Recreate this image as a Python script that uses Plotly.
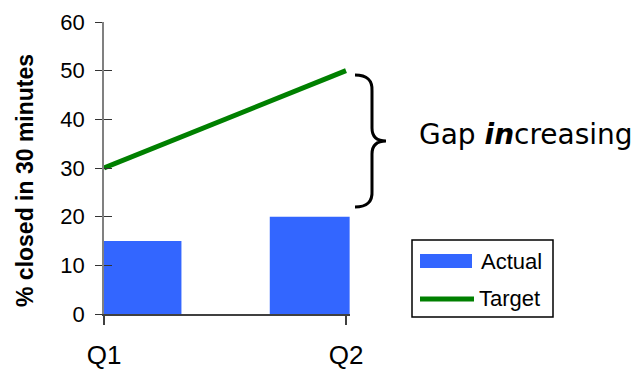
import plotly.graph_objects as go

# ---- data ----
categories = ["Q1", "Q2"]
actual = [15, 20]
target = [30, 50]
series_names = ["Actual", "Target"]
y_title = "% closed in 30 minutes"
gap_text = "Gap <b><i>in</i></b>creasing"

BAR_COLOR = "#3366FF"
LINE_COLOR = "#008000"

W, H = 641, 369
L, R, T, B = 104, 350, 22, 314


def px(x):
    return (x - L) / (R - L)


def py(y):
    return (B - y) / (B - T)


fig = go.Figure()
fig.add_trace(go.Bar(
    x=categories, y=actual, name=series_names[0],
    marker=dict(color=BAR_COLOR, line=dict(width=0)),
    width=[0.32, 0.33], offset=[0, -0.315], showlegend=False,
))
fig.add_trace(go.Scatter(
    x=categories, y=target, name=series_names[1], mode="lines",
    line=dict(color=LINE_COLOR, width=5), yaxis="y2", showlegend=False,
    cliponaxis=False,
))

# brace path (pixel coords converted to paper)
pts = [("M", 355, 75), ("Q", 373, 75, 372, 91), ("L", 372, 128),
       ("Q", 372, 141, 386, 141), ("Q", 372, 141, 372, 154),
       ("L", 372, 191), ("Q", 373, 207, 355, 207)]
path = ""
for p in pts:
    cmd = p[0]
    coords = p[1:]
    s = []
    for i in range(0, len(coords), 2):
        s.append(f"{px(coords[i]):.5f},{py(coords[i+1]):.5f}")
    path += cmd + " " + " ".join(s) + " "

shapes = [
    dict(type="path", xref="paper", yref="paper", path=path,
         line=dict(color="black", width=3)),
    # legend box
    dict(type="rect", xref="paper", yref="paper",
         x0=px(412), x1=px(553), y0=py(240), y1=py(317),
         line=dict(color="black", width=1.5), fillcolor="white"),
    dict(type="rect", xref="paper", yref="paper",
         x0=px(420), x1=px(472), y0=py(254), y1=py(268),
         line=dict(width=0), fillcolor=BAR_COLOR),
    dict(type="line", xref="paper", yref="paper",
         x0=px(420), x1=px(474), y0=py(299), y1=py(299),
         line=dict(color=LINE_COLOR, width=5)),
]

annotations = [
    dict(text=gap_text, xref="paper", yref="paper", x=px(417), y=py(134),
         xanchor="left", yanchor="middle", showarrow=False,
         font=dict(family="DejaVu Sans", size=28, color="black")),
    dict(text=series_names[0], xref="paper", yref="paper", x=px(479), y=py(261),
         xanchor="left", yanchor="middle", showarrow=False,
         font=dict(family="Liberation Sans", size=22, color="black")),
    dict(text=series_names[1], xref="paper", yref="paper", x=px(477), y=py(298),
         xanchor="left", yanchor="middle", showarrow=False,
         font=dict(family="Liberation Sans", size=22, color="black")),
    dict(text="<b>" + y_title + "</b>", xref="paper", yref="paper", x=px(25), y=py(181),
         xanchor="center", yanchor="middle", textangle=-90, showarrow=False,
         font=dict(family="Liberation Sans", size=23, color="black")),
]

fig.update_layout(
    width=W, height=H,
    margin=dict(l=L, r=W - R, t=T, b=H - B, pad=0, autoexpand=False),
    paper_bgcolor="white", plot_bgcolor="white",
    showlegend=False,
    font=dict(family="Liberation Sans", color="black"),
    xaxis=dict(
        type="category", range=[0, 1.0165], showgrid=False, zeroline=False,
        showline=True, linecolor="#404040", linewidth=1.5,
        ticks="outside", ticklen=9, tickcolor="#404040", tickwidth=1.5,
        tickfont=dict(size=26), ticklabelstandoff=8, automargin=False,
    ),
    yaxis=dict(
        range=[0, 60], dtick=10, showgrid=False, zeroline=False,
        showline=True, linecolor="#808080", linewidth=1.5,
        ticks="outside", ticklen=7, tickcolor="#333333", tickwidth=1,
        tickfont=dict(size=22), ticklabelstandoff=6, automargin=False,
    ),
    yaxis2=dict(
        range=[0, 60], dtick=10, overlaying="y", side="left",
        showgrid=False, zeroline=False, showline=False,
        ticks="inside", ticklen=8, tickcolor="#333333", tickwidth=1,
        showticklabels=False, automargin=False,
    ),
    shapes=shapes, annotations=annotations,
)

fig.write_html("out.html")
